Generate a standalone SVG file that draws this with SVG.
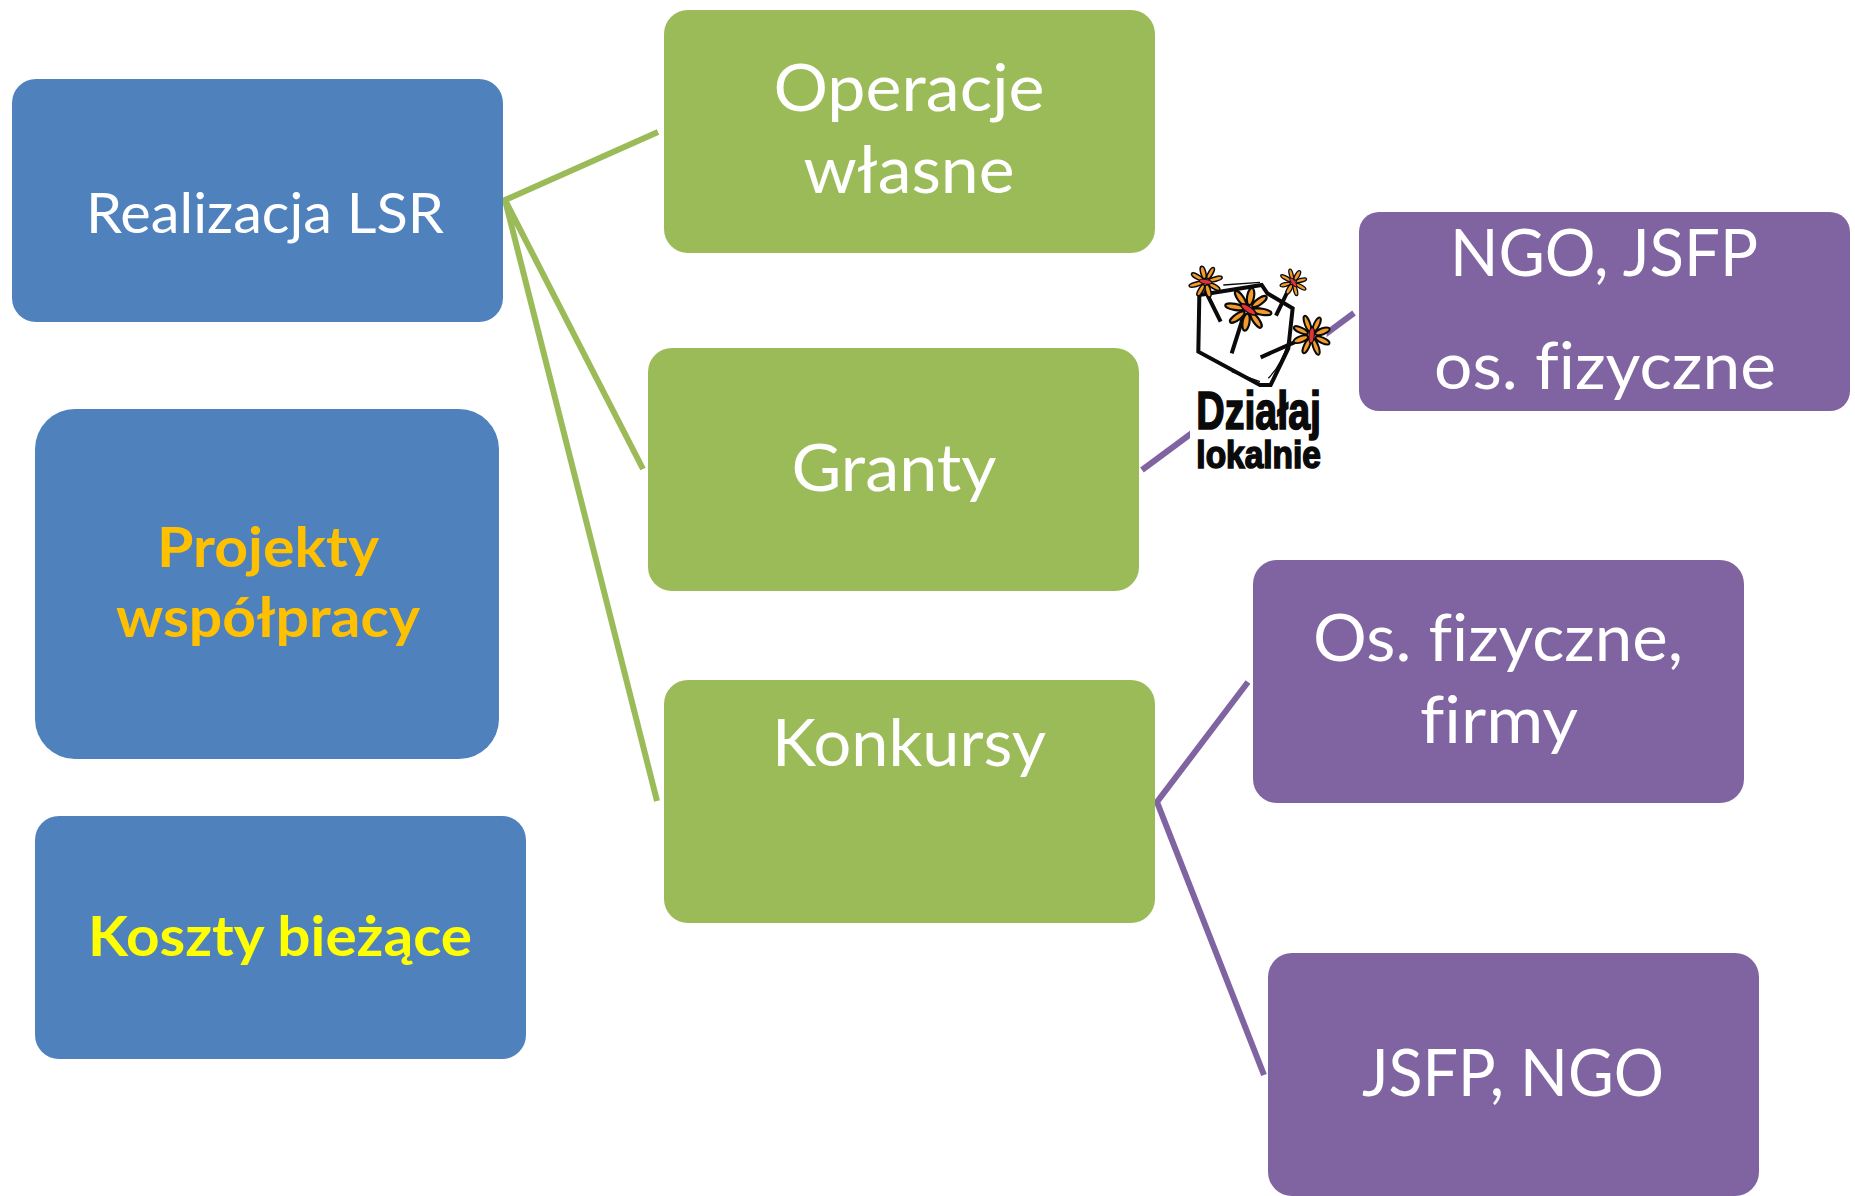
<svg xmlns="http://www.w3.org/2000/svg" width="1855" height="1196" viewBox="0 0 1855 1196">
<style>
text{font-family:Lato,"Open Sans","Liberation Sans",sans-serif;text-anchor:middle;fill:#fff;font-variant-ligatures:none}
.t{font-size:66px}.s{font-size:56px}.b{font-size:56px;font-weight:700}
.blue{fill:#4f81bd}.green{fill:#9bbb59}.purple{fill:#8064a2}
.cg,.cp{fill:none;stroke-width:6}.cg{stroke:#9bbb59}.cp{stroke:#8064a2}
.ln{fill:none;stroke:#0a0a0a;stroke-width:12;stroke-linecap:butt;stroke-linejoin:miter}
.thin{fill:none;stroke:#0a0a0a;stroke-width:4}
.pt{fill:#f39a2b;stroke:#0a0a0a;stroke-width:5}.ct{fill:#e5323a;stroke:#0a0a0a;stroke-width:3}
.lg{font-family:"Liberation Sans",sans-serif;font-weight:700;fill:#0a0a0a;stroke:#0a0a0a;stroke-width:5}
</style>
<defs>
<g id="flower">
<g class="pt">
<ellipse cx="0" cy="-30" rx="8" ry="20"/><ellipse cx="0" cy="30" rx="8" ry="20"/>
<ellipse cx="-32" cy="0" rx="22" ry="7"/><ellipse cx="32" cy="0" rx="22" ry="7"/>
<ellipse cx="22" cy="-22" rx="7" ry="20" transform="rotate(45 22 -22)"/><ellipse cx="-22" cy="-22" rx="7" ry="20" transform="rotate(-45 -22 -22)"/>
<ellipse cx="22" cy="22" rx="7" ry="20" transform="rotate(-45 22 22)"/><ellipse cx="-22" cy="22" rx="7" ry="20" transform="rotate(45 -22 22)"/>
</g>
<ellipse class="ct" cx="0" cy="0" rx="20" ry="7" transform="rotate(25)"/>
</g>
</defs>
<g id="connectors">
<path class="cg" d="M658 132L505 200L643 469M505 200L657 801"/>
<path class="cp" d="M1142 470L1354 313"/>
<path class="cp" d="M1248 682L1157 802L1264 1075"/>
</g>
<g id="n-realizacja"><rect class="blue" x="12" y="79" width="491" height="243" rx="24"/><text class="s" x="265" y="233" textLength="358" lengthAdjust="spacingAndGlyphs">Realizacja LSR</text></g>
<g id="n-projekty"><rect class="blue" x="35" y="409" width="464" height="350" rx="40"/><text class="b" style="fill:#ffc000" x="268" y="567" textLength="222" lengthAdjust="spacingAndGlyphs">Projekty</text><text class="b" style="fill:#ffc000" x="268" y="637" textLength="304" lengthAdjust="spacingAndGlyphs">współpracy</text></g>
<g id="n-koszty"><rect class="blue" x="35" y="816" width="491" height="243" rx="24"/><text class="b" style="fill:#ffff00" x="280" y="956" textLength="384" lengthAdjust="spacingAndGlyphs">Koszty bieżące</text></g>
<g id="n-operacje"><rect class="green" x="664" y="10" width="491" height="243" rx="24"/><text class="t" x="909" y="111" textLength="271" lengthAdjust="spacingAndGlyphs">Operacje</text><text class="t" x="909" y="193" textLength="211" lengthAdjust="spacingAndGlyphs">własne</text></g>
<g id="n-granty"><rect class="green" x="648" y="348" width="491" height="243" rx="24"/><text class="t" x="894" y="491" textLength="205" lengthAdjust="spacingAndGlyphs">Granty</text></g>
<g id="n-konkursy"><rect class="green" x="664" y="680" width="491" height="243" rx="24"/><text class="t" x="909" y="766" textLength="274" lengthAdjust="spacingAndGlyphs">Konkursy</text></g>
<g id="n-ngo"><rect class="purple" x="1359" y="212" width="491" height="199" rx="20"/><text class="t" x="1604" y="276" textLength="308" lengthAdjust="spacingAndGlyphs">NGO, JSFP</text><text class="t" x="1605" y="389" textLength="342" lengthAdjust="spacingAndGlyphs">os. fizyczne</text></g>
<g id="n-osoby"><rect class="purple" x="1253" y="560" width="491" height="243" rx="24"/><text class="t" x="1498" y="661" textLength="370" lengthAdjust="spacingAndGlyphs">Os. fizyczne,</text><text class="t" x="1499" y="743" textLength="158" lengthAdjust="spacingAndGlyphs">firmy</text></g>
<g id="n-jsfp"><rect class="purple" x="1268" y="953" width="491" height="243" rx="24"/><text class="t" x="1513" y="1096" textLength="302" lengthAdjust="spacingAndGlyphs">JSFP, NGO</text></g>
<g id="logo" transform="translate(1160 250) scale(.3333)">
<rect x="90" y="40" width="410" height="640" fill="#fff"/>
<path class="ln" d="M118 135L305 105L322 130L398 175L385 295L332 405L300 405L115 305Z"/>
<path class="thin" d="M190 105L300 97M215 365L300 395M325 385Q365 345 385 275"/>
<path class="ln" d="M135 120L182 215M385 120L348 197M250 200L215 310M430 265L302 322"/>
<use href="#flower" transform="translate(137 95) rotate(-15) scale(.95)"/>
<use href="#flower" transform="translate(400 97) rotate(30) scale(.8)"/>
<use href="#flower" transform="translate(265 178) rotate(10) scale(1.3)"/>
<use href="#flower" transform="translate(455 256) rotate(70) scale(1.15)"/>
<text class="lg" style="font-size:160px" x="296" y="538" textLength="374" lengthAdjust="spacingAndGlyphs">Działaj</text>
<text class="lg" style="font-size:118px" x="296" y="654" textLength="374" lengthAdjust="spacingAndGlyphs">lokalnie</text>
</g>
</svg>
